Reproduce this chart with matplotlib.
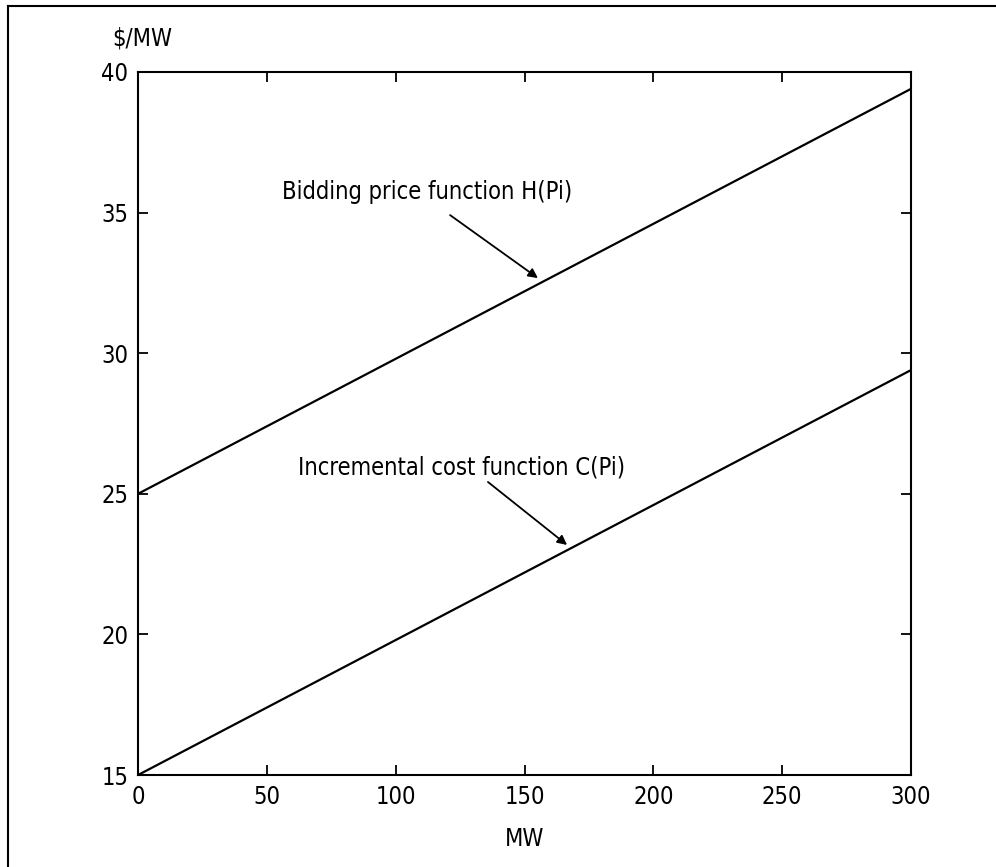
import matplotlib
matplotlib.use("Agg")
import matplotlib.pyplot as plt
from matplotlib.lines import Line2D

# мощность, МВт
P = [0, 300]
# цена заявки H(Pi) и приростные издержки C(Pi), $/МВт
H = [25.0, 39.4]
C = [15.0, 29.4]

x_ticks = [0, 50, 100, 150, 200, 250, 300]
y_ticks = [15, 20, 25, 30, 35, 40]

plt.rcParams['font.family'] = ['DejaVu Sans']
plt.rcParams['font.stretch'] = 'condensed'
fs = 17

fig = plt.figure(figsize=(9.96, 8.67), dpi=100)
ax = fig.add_axes([0.1386, 0.1061, 0.7761, 0.8109])

ax.plot(P, H, color='black', lw=1.6)
ax.plot(P, C, color='black', lw=1.6)

ax.set_xlim(0, 300)
ax.set_ylim(15, 40)
ax.set_xticks(x_ticks)
ax.set_yticks(y_ticks)
ax.tick_params(direction='in', length=7, width=1.3, top=True, right=True,
               labelsize=fs, pad=7)
for s in ax.spines.values():
    s.set_linewidth(1.5)

# подписи кривых со стрелками
arr = dict(arrowstyle='-|>', color='black', lw=1.3, mutation_scale=14,
           shrinkA=0, shrinkB=0)
ax.annotate('Bidding price function H(Pi)', xy=(155.2, 32.67),
            xytext=(55.9, 35.73), fontsize=fs, va='center', ha='left')
ax.annotate('', xy=(155.2, 32.67), xytext=(121.1, 34.91), arrowprops=arr)
ax.annotate('Incremental cost function C(Pi)', xy=(166.5, 23.18),
            xytext=(62.1, 25.92), fontsize=fs, va='center', ha='left')
ax.annotate('', xy=(166.5, 23.18), xytext=(135.8, 25.42), arrowprops=arr)

ax.set_xlabel('MW', fontsize=fs, labelpad=13)
fig.text(0.1125, 0.956, '$/MW', fontsize=fs, ha='left', va='center')

# рамка рисунка
fig.add_artist(Line2D([0.008, 0.008], [0, 0.993], color='black', lw=1.5))
fig.add_artist(Line2D([0.008, 1.0], [0.993, 0.993], color='black', lw=1.5))

fig.savefig('out.png', dpi=100)
